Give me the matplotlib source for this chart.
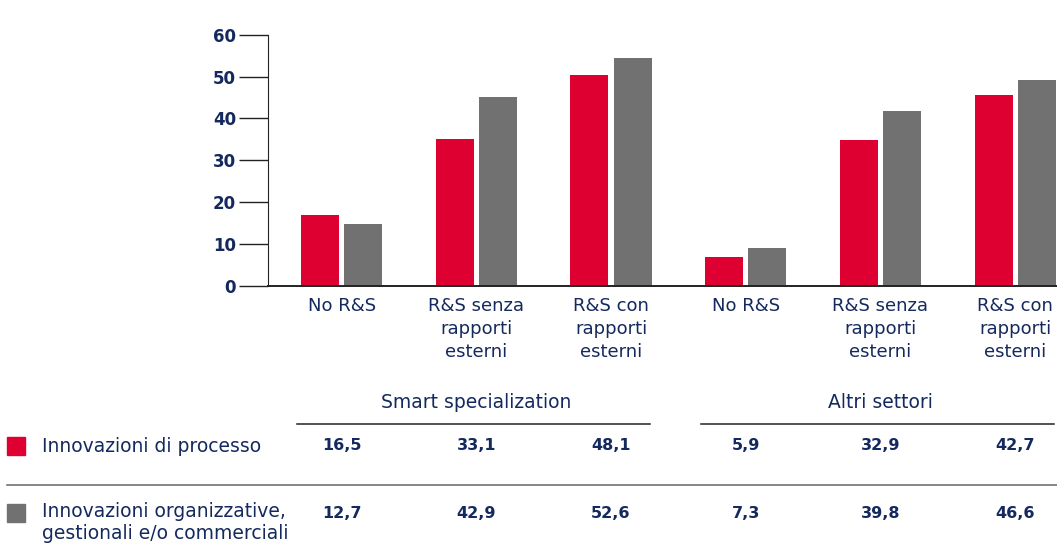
import matplotlib.pyplot as plt
from matplotlib.transforms import blended_transform_factory

red = "#DE0031"
grey = "#717171"
navy = "#14295E"

plt.rcParams["font.family"] = ["DejaVu Sans"]

categories = ["No R&S", "R&S senza\nrapporti\nesterni", "R&S con\nrapporti\nesterni",
              "No R&S", "R&S senza\nrapporti\nesterni", "R&S con\nrapporti\nesterni"]
sections = ["Smart specialization", "Altri settori"]
series = ["Innovazioni di processo", "Innovazioni organizzative,\ngestionali e/o commerciali"]

# bar heights as drawn in the chart
bar_process = [17.0, 35.2, 50.4, 6.9, 34.9, 45.7]
bar_org = [14.8, 45.2, 54.5, 9.1, 41.9, 49.3]

# values printed in the table
tab_process = ["16,5", "33,1", "48,1", "5,9", "32,9", "42,7"]
tab_org = ["12,7", "42,9", "52,6", "7,3", "39,8", "46,6"]

x = list(range(len(categories)))
w = 0.282
off = 0.16

fig = plt.figure(figsize=(10.57, 5.44), dpi=100)
ax = fig.add_axes([268 / 1057, 258 / 544, 789 / 1057, 251.3 / 544])

ax.bar([i - off for i in x], bar_process, width=w, color=red)
ax.bar([i + off for i in x], bar_org, width=w, color=grey)

ax.set_xlim(-0.546, 5.31)
ax.set_ylim(0, 60)
ax.set_yticks(range(0, 61, 10))
ax.set_xticks(x)
ax.set_xticklabels(categories, fontsize=13, color=navy, linespacing=1.34)
ax.tick_params(axis="x", length=0, pad=8)
ax.tick_params(axis="y", length=21, width=1, color="#222222", pad=2,
               labelsize=12, labelcolor=navy)
for t in ax.get_yticklabels():
    t.set_fontweight("bold")
for s in ["top", "right"]:
    ax.spines[s].set_visible(False)
ax.spines["left"].set_color("#222222")
ax.spines["bottom"].set_color("#222222")
ax.spines["bottom"].set_linewidth(1.4)

tr = blended_transform_factory(ax.transData, fig.transFigure)


def fy(py):
    return 1 - py / 544


# section headers and underlines
for k, name in enumerate(sections):
    i0, i1 = 3 * k, 3 * k + 2
    ax.text((i0 + i1) / 2, fy(402), name, transform=tr, ha="center", va="center",
            fontsize=13.5, color=navy)
    ax.plot([i0 - 0.33, i1 + 0.29], [fy(424), fy(424)], transform=tr,
            color="#222222", lw=1.1, clip_on=False)

# table rows
rows = [(tab_process, red, 446), (tab_org, grey, 513)]
for vals, col, py in rows:
    fig.patches.append(plt.Rectangle((7 / 1057, fy(py + 9)), 18 / 1057, 18 / 544,
                                     transform=fig.transFigure, color=col))
    for i, v in zip(x, vals):
        ax.text(i, fy(py), v, transform=tr, ha="center", va="center",
                fontsize=11.5, fontweight="bold", color=navy)

fig.text(42 / 1057, fy(446), series[0], ha="left", va="center", fontsize=13.5, color=navy)
fig.text(42 / 1057, fy(502), series[1], ha="left", va="top", fontsize=13.5, color=navy,
         linespacing=1.22)

fig.add_artist(plt.Line2D([7 / 1057, 1], [fy(485), fy(485)], color="#666666", lw=1.1))

fig.savefig("out.png", dpi=100)
